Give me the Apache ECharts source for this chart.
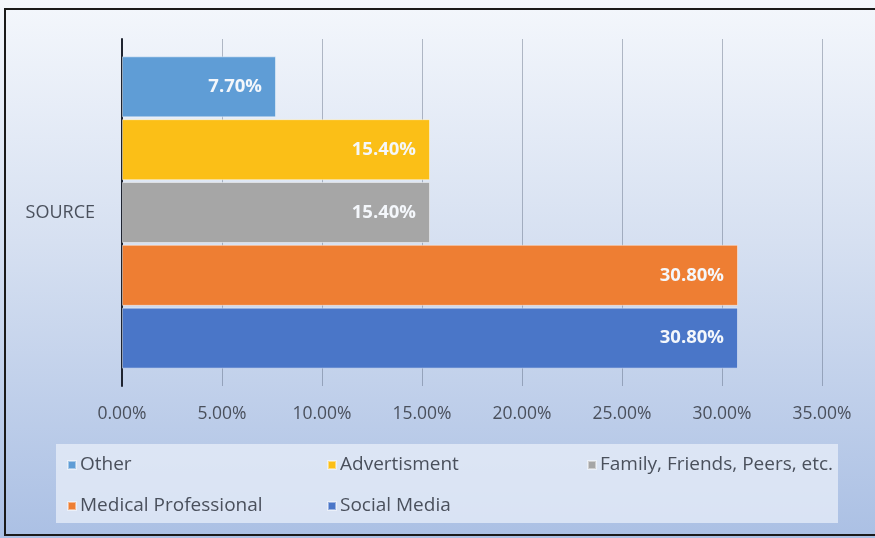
<!DOCTYPE html>
<html>
<head>
<meta charset="utf-8">
<script src="https://cdn.jsdelivr.net/npm/echarts@6/dist/echarts.min.js"></script>
<style>
  html, body { margin: 0; padding: 0; background: #ffffff; }
  #chart { width: 875px; height: 538px; }
</style>
</head>
<body>
<div id="chart"></div>
<script>
// Source of information, share of respondents (%)
const categories = ['SOURCE'];
const seriesNames = ['Other', 'Advertisment', 'Family, Friends, Peers, etc.', 'Medical Professional', 'Social Media'];
const otherValues = [7.7];
const advertismentValues = [15.4];
const familyValues = [15.4];
const medicalValues = [30.8];
const socialValues = [30.8];
const tickLabels = ['0.00%', '5.00%', '10.00%', '15.00%', '20.00%', '25.00%', '30.00%', '35.00%'];

const seriesValues = [otherValues, advertismentValues, familyValues, medicalValues, socialValues];
const colors = ['#5f9dd6', '#fbbf17', '#a6a6a6', '#ee7e33', '#4a76c8'];

const FONT = '"Open Sans", "Noto Sans", sans-serif';
const TEXT_COLOR = '#4a505c';

const chart = echarts.init(document.getElementById('chart'), null, { renderer: 'canvas' });

const series = seriesNames.map((name, i) => ({
  name: name,
  type: 'bar',
  data: seriesValues[i],
  barGap: '3%',
  barCategoryGap: '10%',
  itemStyle: {
    color: colors[i],
    borderColor: 'rgba(255,255,255,0.45)',
    borderWidth: 1
  },
  label: {
    show: true,
    position: 'insideRight',
    distance: 14,
    color: '#f4f7fb',
    fontFamily: FONT,
    fontWeight: 'bold',
    fontSize: 18.5,
    formatter: p => p.value.toFixed(2) + '%'
  }
}));

chart.setOption({
  animation: false,
  backgroundColor: {
    type: 'linear', x: 0, y: 0, x2: 0, y2: 1,
    colorStops: [
      { offset: 0, color: '#f4f7fc' },
      { offset: 0.45, color: '#d6e0f1' },
      { offset: 1, color: '#abc0e4' }
    ]
  },
  color: colors,
  graphic: [
    {
      type: 'rect',
      shape: { x: 56, y: 444, width: 782, height: 79 },
      style: { fill: 'rgba(234,240,249,0.72)' },
      z: 0
    },
    {
      type: 'rect',
      shape: { x: 5, y: 9, width: 880, height: 526 },
      style: { fill: 'none', stroke: '#1a1a1a', lineWidth: 2 },
      z: 100
    }
  ],
  grid: { left: 122, right: 53, top: 39, bottom: 152, containLabel: false },
  xAxis: {
    type: 'value',
    min: 0,
    max: 35,
    interval: 5,
    axisLine: { show: false },
    axisTick: { show: false },
    splitLine: { show: true, lineStyle: { color: 'rgba(80,92,115,0.4)', width: 1 } },
    axisLabel: {
      margin: 19,
      color: TEXT_COLOR,
      fontFamily: FONT,
      fontSize: 17.5,
      formatter: (v) => tickLabels[Math.round(v / 5)]
    }
  },
  yAxis: {
    type: 'category',
    data: categories,
    inverse: true,
    axisLine: { show: true, lineStyle: { color: '#1f2430', width: 2 } },
    axisTick: { show: false },
    axisLabel: {
      margin: 27,
      color: TEXT_COLOR,
      fontFamily: FONT,
      fontSize: 18
    }
  },
  legend: {
    data: seriesNames,
    left: 62,
    top: 443,
    width: 790,
    orient: 'horizontal',
    icon: 'rect',
    itemWidth: 8,
    itemHeight: 8,
    itemGap: 7,
    textStyle: {
      color: TEXT_COLOR,
      fontFamily: FONT,
      fontSize: 19,
      width: 240,
      overflow: 'none',
      lineHeight: 34,
      padding: [0, 0, 0, -1]
    }
  },
  series: series
});
</script>
</body>
</html>
